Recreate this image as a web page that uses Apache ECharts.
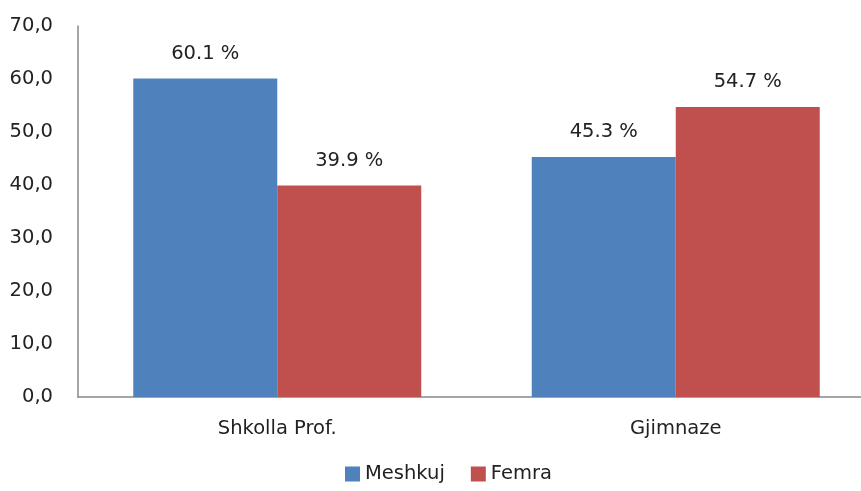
<!DOCTYPE html>
<html>
<head>
    <meta charset="utf-8">
    <title>ECharts</title>
    <script src="https://cdn.jsdelivr.net/npm/echarts@6/dist/echarts.min.js"></script>
    <style>
        body { margin: 0; background: #fff; overflow: hidden; }
    </style>
</head>
<body>
    <!-- a bit wider than the window: the right end of the plot is cut off like in the original -->
    <div id="main" style="width: 875px;height:491px;"></div>
    <script type="text/javascript">
        // categories and values
        var categories = ['Shkolla Prof.', 'Gjimnaze'];
        var meshkuj = [60.1, 45.3];
        var femra = [39.9, 54.7];
        var seriesNames = ['Meshkuj', 'Femra'];

        var FONT = 'DejaVu Sans';
        var labelStyle = {
            show: true,
            position: 'top',
            distance: 15,
            color: '#222',
            fontSize: 19.5,
            fontFamily: FONT,
            formatter: function (p) {
                return p.value.toFixed(1) + ' %';
            }
        };

        var myChart = echarts.init(document.getElementById('main'));

        var option = {
            backgroundColor: '#fff',
            animation: false,
            legend: {
                data: seriesNames,
                top: 464,
                left: 345,
                padding: 0,
                itemWidth: 15,
                itemHeight: 15,
                itemGap: 26,
                icon: 'rect',
                textStyle: { fontSize: 19.5, fontFamily: FONT, color: '#222' }
            },
            grid: {
                left: 78,
                top: 26,
                right: 0,
                height: 371
            },
            xAxis: {
                type: 'category',
                data: categories,
                axisLine: { lineStyle: { color: '#888', width: 1.5 } },
                axisTick: { show: false },
                axisLabel: { fontSize: 19.5, fontFamily: FONT, color: '#222', margin: 22 }
            },
            yAxis: {
                type: 'value',
                min: 0,
                max: 70,
                interval: 10,
                splitLine: { show: false },
                axisLine: { show: true, lineStyle: { color: '#888', width: 1.5 } },
                axisTick: { show: false },
                axisLabel: {
                    fontSize: 19.5, fontFamily: FONT, color: '#222', margin: 25,
                    formatter: function (v) { return v.toFixed(1).replace('.', ','); }
                }
            },
            series: [
                {
                    name: seriesNames[0],
                    type: 'bar',
                    data: meshkuj,
                    barWidth: 144,
                    barGap: '0%',
                    itemStyle: { color: '#4F81BD' },
                    label: labelStyle
                },
                {
                    name: seriesNames[1],
                    type: 'bar',
                    data: femra,
                    barWidth: 144,
                    barGap: '0%',
                    itemStyle: { color: '#C0504D' },
                    label: labelStyle
                }
            ]
        };

        myChart.setOption(option);

        window.addEventListener("resize", function(){
            myChart.resize();
        })
    </script>
</body>
</html>
